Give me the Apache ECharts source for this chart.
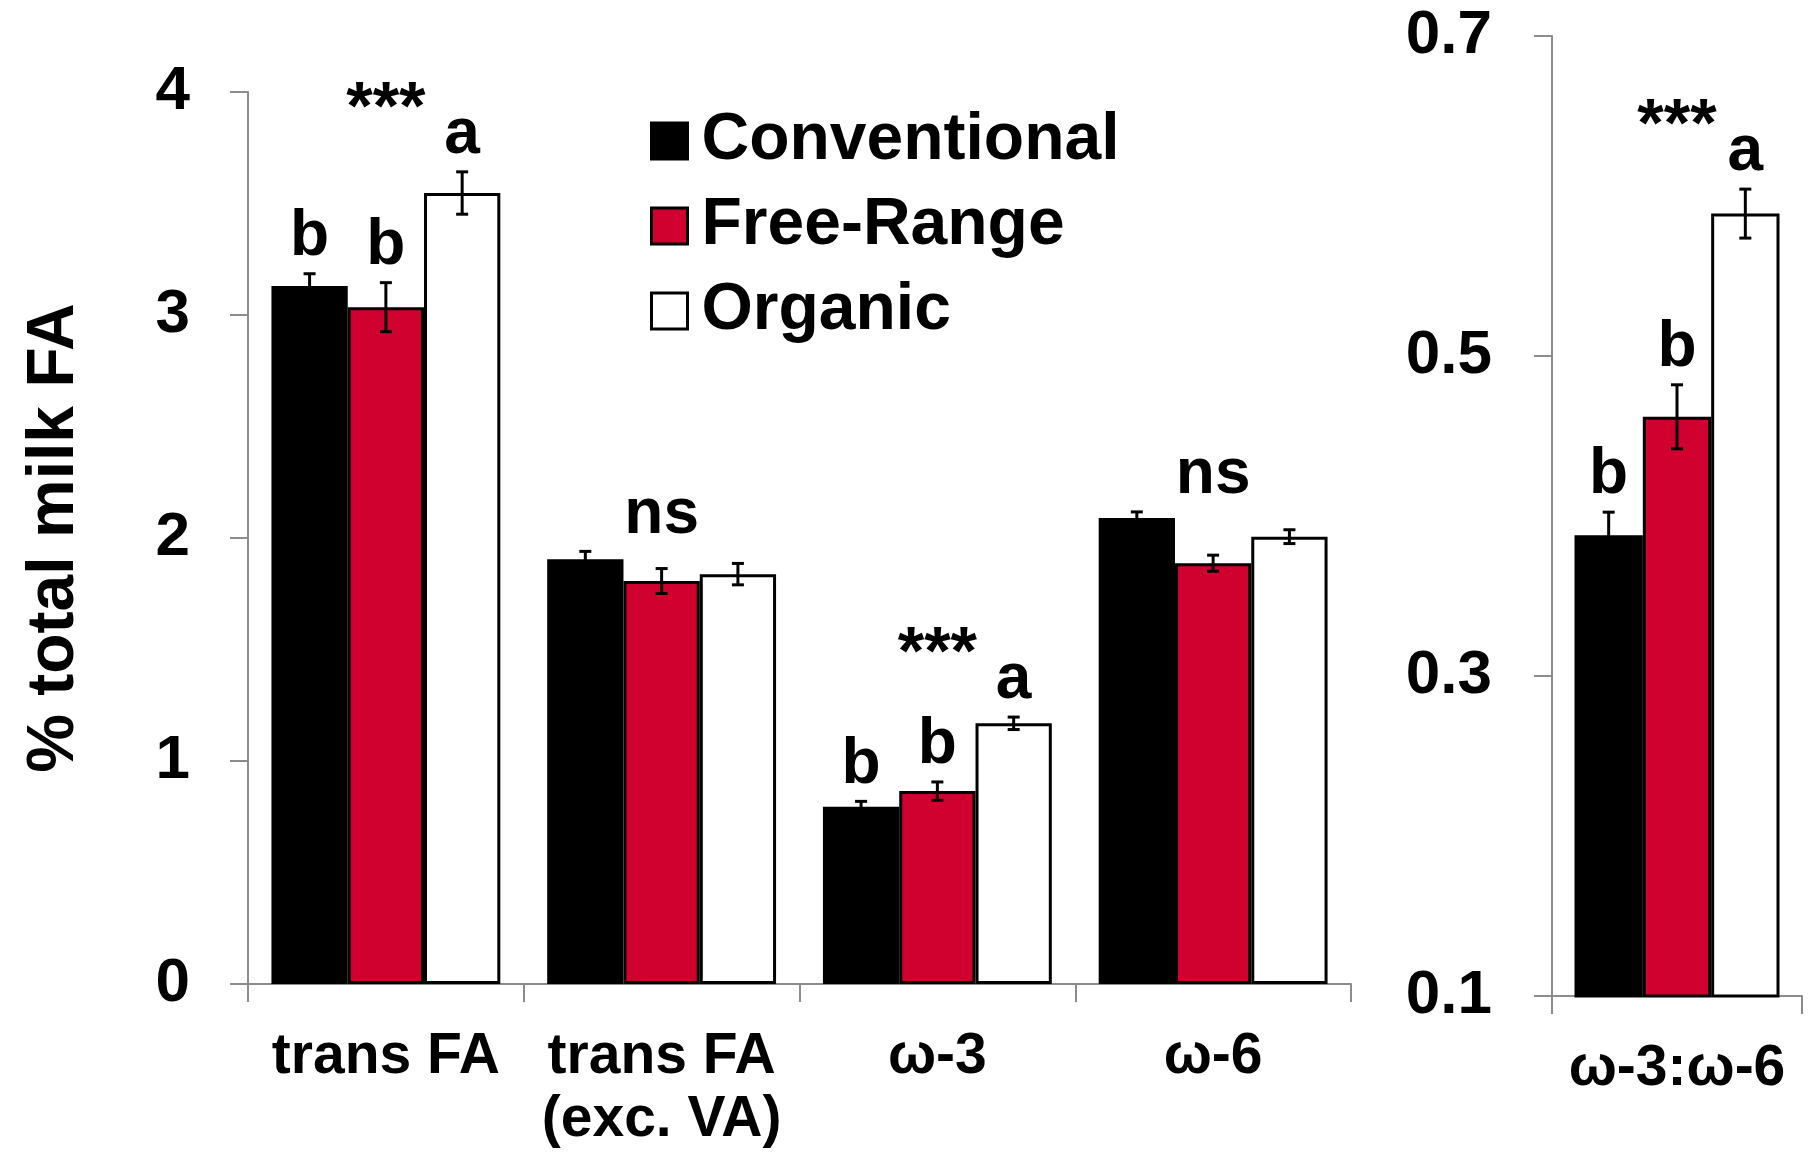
<!DOCTYPE html>
<html>
<head>
<meta charset="utf-8">
<script src="https://cdn.jsdelivr.net/npm/echarts@6/dist/echarts.min.js"></script>
<style>
  html, body { margin: 0; padding: 0; background: #fff; }
  #chart { width: 1808px; height: 1152px; }
</style>
</head>
<body>
<div id="chart"></div>
<script>
// data
var categories = ['trans FA', 'trans FA\n(exc. VA)', 'ω-3', 'ω-6'];
var ratioCategories = ['ω-3:ω-6'];
var groups = ['Conventional', 'Free-Range', 'Organic'];

var conventional = [3.13, 1.905, 0.795, 2.09];
var conventionalErr = [0.055, 0.035, 0.024, 0.027];
var freeRange = [3.035, 1.807, 0.865, 1.887];
var freeRangeErr = [0.11, 0.056, 0.041, 0.036];
var organic = [3.547, 1.838, 1.169, 2.006];
var organicErr = [0.095, 0.048, 0.028, 0.031];

var ratioValues = [0.388, 0.462, 0.589];
var ratioErr = [0.0144, 0.02, 0.0153];

var letters = [['b', 'b', 'a'], ['', '', ''], ['b', 'b', 'a'], ['', '', '']];
var ratioLetters = [['b', 'b', 'a']];
var groupMarks = ['***', 'ns', '***', 'ns'];
var ratioMarks = ['***'];

var leftTicks = [0, 1, 2, 3, 4];
var rightTicks = [0.1, 0.3, 0.5, 0.7];

var FONT = 'Liberation Sans, Arial, sans-serif';
var RED = '#d0002f';
var AXIS_GRAY = '#8c8c8c';
var colors = ['#000000', RED, '#ffffff'];
var GAP_LEFT = 0.17, GAP_RIGHT = 0.18;
var LETTER_GAP = 14, STAR_GAP = 24, ANN_SIZE = 64, STAR_SIZE = 68;

var chartEle = document.getElementById('chart');
var chart = echarts.init(chartEle);

// pixel x of bar k inside its category
function barX(api, cat, val, k, gap) {
	var band = api.size([1, 0])[0];
	var w = band * (1 - gap) / 3;
	return api.coord([cat, val])[0] + (k - 1) * w;
}

function annText(x, baseline, txt, size) {
	return {
		type: 'text',
		style: {
			text: txt, x: x, y: baseline - 0.35 * size,
			fill: '#000', align: 'center', verticalAlign: 'middle',
			font: 'bold ' + size + 'px ' + FONT
		}
	};
}

// error bars + letters for one panel
function makeErrSeries(vals, errs, lets, marks, gap, axisIdx) {
	var items = [];
	vals.forEach(function (row, c) {
		row.forEach(function (v, k) {
			items.push({ cat: c, k: k, v: v, e: errs[c][k], letter: lets[c][k] });
		});
	});
	var errSeries = {
		type: 'custom',
		xAxisIndex: axisIdx, yAxisIndex: axisIdx,
		clip: false, silent: true, z: 5,
		data: items.map(function (d) { return [d.cat, d.v]; }),
		renderItem: function (params, api) {
			var d = items[params.dataIndex];
			var x = barX(api, d.cat, d.v, d.k, gap);
			var top = api.coord([d.cat, d.v + d.e])[1];
			var bot = api.coord([d.cat, d.v - d.e])[1];
			var cap = 6;
			var ls = { stroke: '#000', lineWidth: 3 };
			var children = [
				{ type: 'line', shape: { x1: x, y1: top, x2: x, y2: bot }, style: ls },
				{ type: 'line', shape: { x1: x - cap, y1: top, x2: x + cap, y2: top }, style: ls },
				{ type: 'line', shape: { x1: x - cap, y1: bot, x2: x + cap, y2: bot }, style: ls }
			];
			if (d.letter) children.push(annText(x, top - LETTER_GAP, d.letter, ANN_SIZE));
			return { type: 'group', children: children };
		}
	};
	var markSeries = {
		type: 'custom',
		xAxisIndex: axisIdx, yAxisIndex: axisIdx,
		clip: false, silent: true, z: 5,
		data: marks.map(function (m, c) { return [c, vals[c][1]]; }),
		renderItem: function (params, api) {
			var c = params.dataIndex;
			var minTop = Infinity;
			vals[c].forEach(function (v, k) {
				minTop = Math.min(minTop, api.coord([c, v + errs[c][k]])[1]);
			});
			var hasLetters = lets[c].some(function (l) { return l; });
			var base = minTop - LETTER_GAP - (hasLetters ? STAR_GAP : 0);
			var x = api.coord([c, 0])[0];
			return annText(x, base, marks[c], hasLetters ? STAR_SIZE : ANN_SIZE);
		}
	};
	return [errSeries, markSeries];
}

function transpose(a, b, c) {
	return a.map(function (_, i) { return [a[i], b[i], c[i]]; });
}

var leftVals = transpose(conventional, freeRange, organic);
var leftErrs = transpose(conventionalErr, freeRangeErr, organicErr);
var rightVals = [ratioValues];
var rightErrs = [ratioErr];

var barSeries = [];
[conventional, freeRange, organic].forEach(function (arr, k) {
	barSeries.push({
		name: groups[k], type: 'bar', data: arr,
		xAxisIndex: 0, yAxisIndex: 0,
		barGap: '0%', barCategoryGap: (GAP_LEFT * 100) + '%',
		itemStyle: { color: colors[k], borderColor: '#000', borderWidth: 3 }
	});
});
ratioValues.forEach(function (v, k) {
	barSeries.push({
		name: groups[k], type: 'bar', data: [v],
		xAxisIndex: 1, yAxisIndex: 1,
		barGap: '0%', barCategoryGap: (GAP_RIGHT * 100) + '%',
		itemStyle: { color: colors[k], borderColor: '#000', borderWidth: 3 }
	});
});

var axisLine = { show: true, lineStyle: { color: AXIS_GRAY, width: 2 } };
var axisTick = { show: true, length: 18, lineStyle: { color: AXIS_GRAY, width: 2 } };
var tickFont = { color: '#000', fontSize: 62, fontWeight: 'bold', fontFamily: FONT };
var catFont = { color: '#000', fontSize: 57, fontWeight: 'bold', fontFamily: FONT, lineHeight: 63 };

var option = {
	animation: false,
	backgroundColor: '#fff',
	grid: [
		{ left: 248, right: 457, top: 92, bottom: 163 },
		{ left: 1552, right: 6, top: 36, bottom: 156 }
	],
	legend: {
		orient: 'vertical', left: 645, top: 103,
		itemWidth: 36, itemHeight: 36, itemGap: 19,
		data: groups,
		icon: 'rect',
		itemStyle: { borderColor: '#000', borderWidth: 3 },
		textStyle: { color: '#000', fontSize: 66, fontWeight: 'bold', fontFamily: FONT, padding: [0, 0, 0, 9] }
	},
	xAxis: [
		{
			type: 'category', gridIndex: 0, data: categories,
			axisLine: axisLine, axisTick: axisTick,
			axisLabel: Object.assign({ margin: 42, interval: 0 }, catFont)
		},
		{
			type: 'category', gridIndex: 1, data: ratioCategories,
			axisLine: axisLine, axisTick: axisTick,
			axisLabel: Object.assign({ margin: 42, interval: 0 }, catFont)
		}
	],
	yAxis: [
		{
			type: 'value', gridIndex: 0, min: 0, max: 4, interval: 1,
			name: '% total milk FA', nameLocation: 'middle', nameGap: 160,
			nameTextStyle: { color: '#000', fontSize: 66, fontWeight: 'bold', fontFamily: FONT },
			splitLine: { show: false },
			axisLine: axisLine, axisTick: Object.assign({ customValues: leftTicks }, axisTick),
			axisLabel: Object.assign({ margin: 58, customValues: leftTicks }, tickFont)
		},
		{
			type: 'value', gridIndex: 1, min: 0.1, max: 0.7,
			splitLine: { show: false },
			axisLine: axisLine, axisTick: Object.assign({ customValues: rightTicks }, axisTick),
			axisLabel: Object.assign({ margin: 60, customValues: rightTicks }, tickFont)
		}
	],
	series: barSeries
		.concat(makeErrSeries(leftVals, leftErrs, letters, groupMarks, GAP_LEFT, 0))
		.concat(makeErrSeries(rightVals, rightErrs, ratioLetters, ratioMarks, GAP_RIGHT, 1))
};

chart.setOption(option);
</script>
</body>
</html>
